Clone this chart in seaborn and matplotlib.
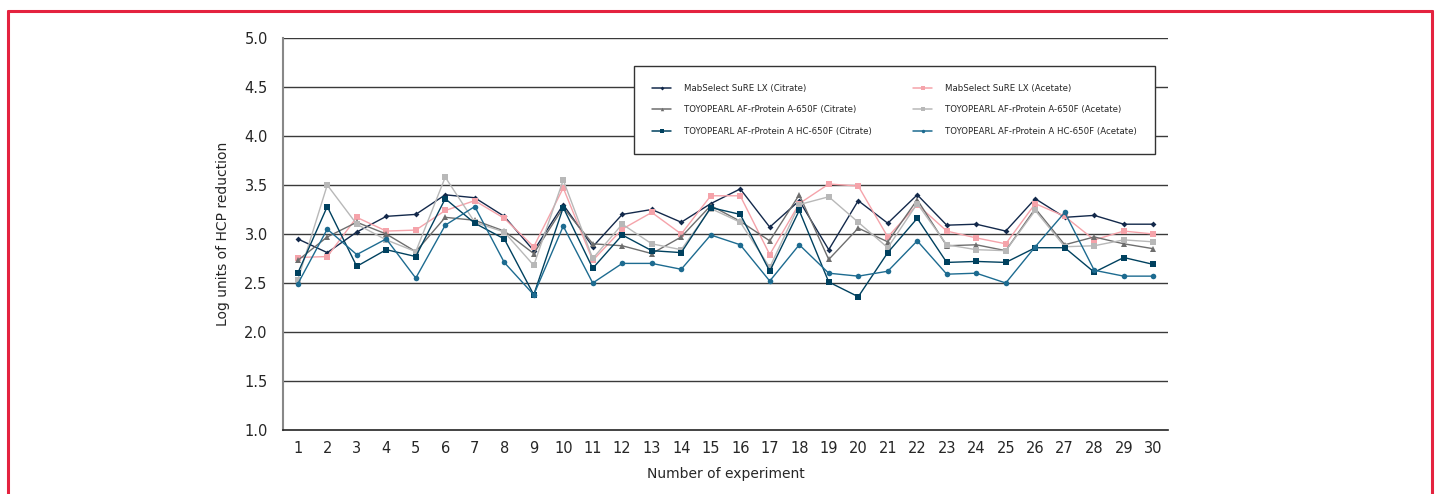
import numpy as np
import pandas as pd
import matplotlib
matplotlib.use("Agg")
import matplotlib.pyplot as plt
import seaborn as sns
from matplotlib.lines import Line2D

experiments = list(range(1, 31))

ms_citrate = [2.95, 2.81, 3.02, 3.18, 3.20, 3.40, 3.37, 3.18, 2.83, 3.30,
              2.87, 3.20, 3.25, 3.12, 3.31, 3.46, 3.07, 3.34, 2.84, 3.34,
              3.11, 3.40, 3.09, 3.10, 3.03, 3.36, 3.17, 3.19, 3.10, 3.10]
ms_acetate = [2.76, 2.77, 3.17, 3.03, 3.04, 3.24, 3.34, 3.16, 2.87, 3.47,
              2.73, 3.05, 3.22, 3.00, 3.39, 3.39, 2.79, 3.31, 3.51, 3.49,
              2.97, 3.30, 3.03, 2.96, 2.90, 3.31, 3.18, 2.94, 3.03, 3.00]
toyo_citrate = [2.73, 2.97, 3.12, 3.00, 2.82, 3.17, 3.14, 3.03, 2.80, 3.27,
                2.90, 2.88, 2.80, 2.97, 3.29, 3.13, 2.93, 3.40, 2.74, 3.06,
                2.92, 3.35, 2.88, 2.89, 2.83, 3.26, 2.89, 2.97, 2.90, 2.85]
toyo_acetate = [2.53, 3.50, 3.10, 2.94, 2.82, 3.58, 3.12, 3.02, 2.68, 3.55,
                2.75, 3.10, 2.90, 2.84, 3.26, 3.12, 2.66, 3.30, 3.38, 3.12,
                2.86, 3.31, 2.89, 2.84, 2.83, 3.24, 2.87, 2.88, 2.94, 2.92]
hc_citrate = [2.60, 3.28, 2.67, 2.84, 2.77, 3.36, 3.11, 2.95, 2.38, 3.27,
              2.65, 2.99, 2.83, 2.81, 3.27, 3.20, 2.62, 3.24, 2.51, 2.36,
              2.81, 3.16, 2.71, 2.72, 2.71, 2.86, 2.86, 2.61, 2.76, 2.69]
hc_acetate = [2.49, 3.05, 2.79, 2.95, 2.55, 3.09, 3.28, 2.71, 2.38, 3.08,
              2.50, 2.70, 2.70, 2.64, 2.99, 2.89, 2.52, 2.89, 2.60, 2.57,
              2.62, 2.93, 2.59, 2.60, 2.50, 2.87, 3.22, 2.63, 2.57, 2.57]

series_names = ["MabSelect SuRE LX (Citrate)",
                "MabSelect SuRE LX (Acetate)",
                "TOYOPEARL AF-rProtein A-650F (Citrate)",
                "TOYOPEARL AF-rProtein A-650F (Acetate)",
                "TOYOPEARL AF-rProtein A HC-650F (Citrate)",
                "TOYOPEARL AF-rProtein A HC-650F (Acetate)"]
series_values = [ms_citrate, ms_acetate, toyo_citrate, toyo_acetate,
                 hc_citrate, hc_acetate]

colors = ["#13294b", "#f5a3aa", "#6e6e6e", "#b8b8b8", "#00415f", "#1d6b90"]
markers = ["D", "s", "^", "s", "s", "o"]
msizes = [3, 4, 4, 5, 5, 4]

rows = []
for name, vals in zip(series_names, series_values):
    for e, v in zip(experiments, vals):
        rows.append({"Experiment": e, "Value": v, "Series": name})
df = pd.DataFrame(rows)

sns.set_style("white")
plt.rcParams["font.family"] = ["DejaVu Sans"]

fig = plt.figure(figsize=(14.39, 4.94), dpi=100)
ax = fig.add_axes([283 / 1439, 1 - 430 / 494, 885 / 1439, 392 / 494])

for i, name in enumerate(series_names):
    sub = df[df["Series"] == name]
    sns.lineplot(data=sub, x="Experiment", y="Value", ax=ax, color=colors[i],
                 marker=markers[i], markersize=msizes[i], markeredgewidth=0,
                 linewidth=1.0, legend=False, zorder=3 + i * 0.1)

ax.set_xlim(0.5, 30.5)
ax.set_ylim(1.0, 5.0)
yt = np.arange(1.0, 5.01, 0.5)
ax.set_yticks(yt)
ax.set_yticklabels([f"{v:.1f}" for v in yt], fontsize=10.5)
ax.set_xticks(experiments)
ax.set_xticklabels([str(e) for e in experiments], fontsize=10.5)
ax.set_xticks(np.arange(0.5, 30.6, 1.0), minor=True)
ax.tick_params(axis="x", which="major", length=0, pad=8)
ax.tick_params(axis="x", which="minor", length=5, width=1, color="#333333", direction="out")
ax.tick_params(axis="y", which="major", length=7, width=1, color="#555555", direction="out", pad=4)

for v in np.arange(1.5, 5.01, 0.5):
    ax.axhline(v, color="#3a3a3a", linewidth=1.0, zorder=1)

for s in ["top", "right"]:
    ax.spines[s].set_visible(False)
ax.spines["left"].set_color("#888888")
ax.spines["left"].set_linewidth(1.5)
ax.spines["bottom"].set_color("#222222")
ax.spines["bottom"].set_linewidth(1.2)

ax.set_xlabel("Number of experiment", fontsize=10, labelpad=8)
ax.set_ylabel("Log units of HCP reduction", fontsize=10, labelpad=10)

handles = [Line2D([0], [0], color=colors[i], marker=markers[i],
                  markersize=max(msizes[i] - 1.5, 2), markeredgewidth=0, linewidth=1.1)
           for i in range(6)]
order = [0, 2, 4, 1, 3, 5]
leg = ax.legend([handles[i] for i in order], [series_names[i] for i in order],
                ncol=2, loc="upper left",
                bbox_to_anchor=(0.397, 0.929),
                fontsize=6.2, frameon=True, fancybox=False, edgecolor="#333333",
                framealpha=1.0, handlelength=2.2, handletextpad=1.5,
                columnspacing=4.8, labelspacing=1.45, borderpad=2.1,
                borderaxespad=0)
leg.get_frame().set_linewidth(1.0)
leg.set_zorder(10)

# red document frame
red = "#e4233f"
fig.add_artist(Line2D([8 / 1439, 8 / 1439], [0, 1 - 11 / 494], color=red, linewidth=2.2, transform=fig.transFigure))
fig.add_artist(Line2D([8 / 1439, 1432 / 1439], [1 - 11 / 494, 1 - 11 / 494], color=red, linewidth=2.2, transform=fig.transFigure))
fig.add_artist(Line2D([1432 / 1439, 1432 / 1439], [0, 1 - 11 / 494], color=red, linewidth=2.2, transform=fig.transFigure))

fig.savefig("out.png", dpi=100)
